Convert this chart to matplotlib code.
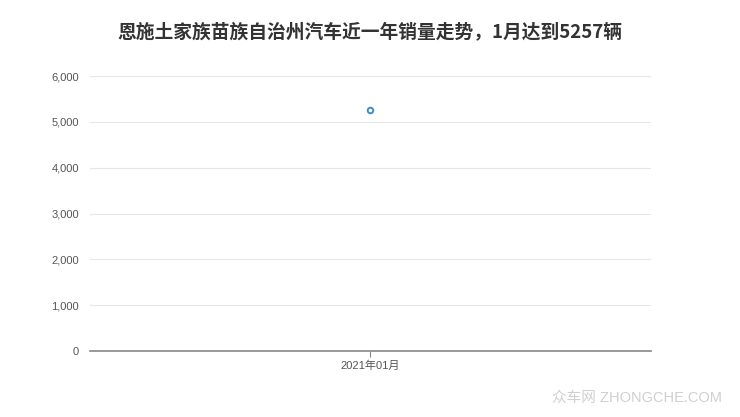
import matplotlib.pyplot as plt
from matplotlib.ticker import FuncFormatter

plt.rcParams['font.family'] = ['Liberation Sans', 'Noto Sans CJK SC', 'DejaVu Sans']

# Data
months = ['2021年01月']
sales = [5257]
title = '恩施土家族苗族自治州汽车近一年销量走势，1月达到5257辆'

fig = plt.figure(figsize=(7.4, 4.17), dpi=100)
ax = fig.add_axes([0.1216, 0.1583, 0.7581, 0.6594])

x = list(range(len(months)))
ax.plot(x, sales, marker='o', markersize=4, markerfacecolor='white',
        markeredgecolor='#3a8fc8', markeredgewidth=1.4, color='#3a8fc8', linewidth=1.5)

ax.set_xlim(-1, 1)
ax.set_ylim(0, 6000)
ax.set_yticks(range(0, 6001, 1000))
ax.yaxis.set_major_formatter(FuncFormatter(lambda v, p: f'{int(v):,}'))
ax.set_xticks(x)
ax.set_xticklabels(months)

ax.grid(axis='y', color='#e6e6e6', linewidth=0.8)
ax.set_axisbelow(True)
for s in ['top', 'right', 'left']:
    ax.spines[s].set_visible(False)
ax.spines['bottom'].set_color('#888888')
ax.spines['bottom'].set_linewidth(1.2)
ax.tick_params(axis='y', length=0, labelsize=8, labelcolor='#555555', pad=8)
ax.tick_params(axis='x', length=4, color='#888888', labelsize=8, labelcolor='#555555', pad=3)

fig.text(0.5, 0.923, title, ha='center', va='center', fontsize=13.5,
         fontweight='bold', color='#333333',
         family=['Noto Sans CJK SC', 'DejaVu Sans'])
fig.text(0.975, 0.045, '众车网 ZHONGCHE.COM', ha='right', va='center',
         fontsize=10.5, color='#d0d0d0')

fig.savefig('out.png', dpi=100)
